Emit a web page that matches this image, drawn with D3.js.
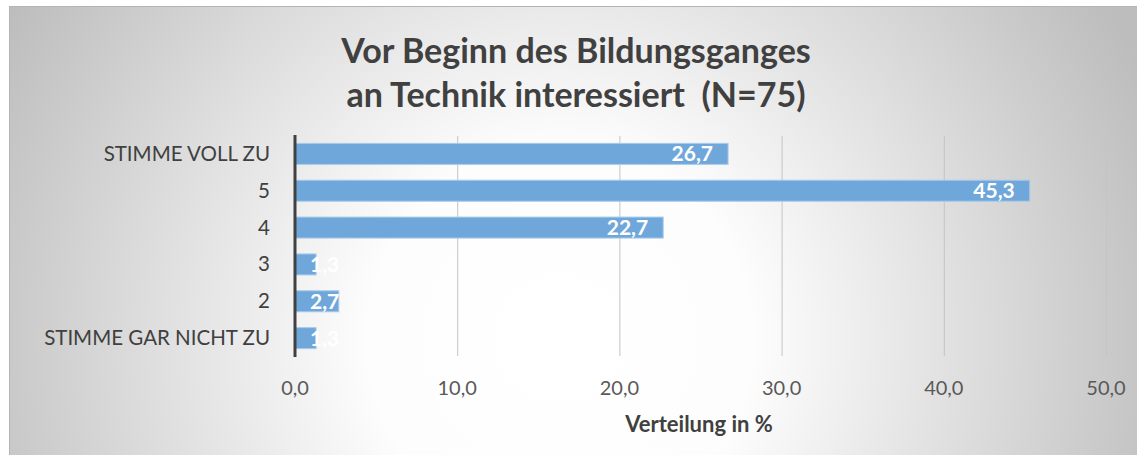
<!DOCTYPE html>
<html>
<head>
<meta charset="utf-8">
<script src="https://cdn.jsdelivr.net/npm/d3@7"></script>
<style>
  body { margin: 0; background: #fff; }
  svg { display: block; font-family: Lato, "Open Sans", sans-serif; }
</style>
</head>
<body>
<svg width="1137" height="455"></svg>
<script>
(() => {

    var width = 1137;
    var height = 455;
    var margin = {top: 136, bottom: 99, left: 295, right: 31};

    // data, top to bottom
    var categories = ["STIMME VOLL ZU", "5", "4", "3", "2", "STIMME GAR NICHT ZU"];
    var values = [26.7, 45.3, 22.7, 1.3, 2.7, 1.3];
    var ticks = [0, 10, 20, 30, 40, 50];
    var titleLines = ["Vor Beginn des Bildungsganges", "an Technik interessiert  (N=75)"];
    var axisTitle = "Verteilung in %";

    var data = categories.map((c, i) => ({cat: c, val: values[i]}));
    var fmt = d => d.toFixed(1).replace(".", ",");

    var svg = d3.select('svg');

    // background
    var defs = svg.append('defs');
    var grad = defs.append('radialGradient')
        .attr('id', 'bg')
        .attr('gradientUnits', 'userSpaceOnUse')
        .attr('cx', 560).attr('cy', 340).attr('r', 640);
    grad.append('stop').attr('offset', '0%').attr('stop-color', '#ffffff');
    grad.append('stop').attr('offset', '30%').attr('stop-color', '#fdfdfd');
    grad.append('stop').attr('offset', '100%').attr('stop-color', '#bdbdbd');

    svg.append('rect')
        .attr('x', 9).attr('y', 6)
        .attr('width', width - 9).attr('height', height - 6)
        .attr('fill', 'url(#bg)');
    svg.append('line')
        .attr('x1', 9).attr('x2', width).attr('y1', 6.5).attr('y2', 6.5)
        .attr('stroke', '#b4b4b4');
    svg.append('line')
        .attr('x1', 9.5).attr('x2', 9.5).attr('y1', 6).attr('y2', height)
        .attr('stroke', '#b4b4b4');

    //scales
    var xScale = d3.scaleLinear()
        .domain([0, 50])
        .range([margin.left, width - margin.right]);
    var yScale = d3.scaleBand()
        .domain(categories)
        .range([margin.top, height - margin.bottom])
        .paddingInner(0.43)
        .paddingOuter(0.2);

    // gridlines
    svg.append('g')
        .selectAll('line')
        .data(ticks.slice(1))
        .enter().append('line')
        .attr('x1', d => xScale(d) + 0.5)
        .attr('x2', d => xScale(d) + 0.5)
        .attr('y1', margin.top)
        .attr('y2', height - margin.bottom)
        .attr('stroke', '#c4c4c4')
        .attr('stroke-width', 1);

    // bars
    svg.selectAll('rect.bar')
        .data(data)
        .enter().append('rect')
        .attr('class', 'bar')
        .attr('x', xScale(0))
        .attr('y', d => yScale(d.cat))
        .attr('width', d => xScale(d.val) - xScale(0))
        .attr('height', yScale.bandwidth())
        .attr('fill', '#70a7da')
        .attr('stroke', '#a9cbea')
        .attr('stroke-width', 1);

    // data labels
    svg.selectAll('text.lbl')
        .data(data)
        .enter().append('text')
        .attr('class', 'lbl')
        .text(d => fmt(d.val))
        .attr('y', d => yScale(d.cat) + yScale.bandwidth() / 2 + 7.5)
        .attr('fill', '#ffffff')
        .attr('font-weight', 'bold')
        .attr('font-size', 21)
        .attr('x', function (d) {
            var w = this.getComputedTextLength();
            return Math.max(xScale(d.val) - 15 - w, xScale(0) + 15);
        });

    // y axis line
    svg.append('line')
        .attr('x1', xScale(0)).attr('x2', xScale(0))
        .attr('y1', margin.top - 1).attr('y2', height - margin.bottom + 1)
        .attr('stroke', '#404040')
        .attr('stroke-width', 3);

    // category labels
    svg.selectAll('text.cat')
        .data(categories)
        .enter().append('text')
        .attr('class', 'cat')
        .text(d => d)
        .attr('x', 270)
        .attr('y', d => yScale(d) + yScale.bandwidth() / 2 + 7)
        .attr('text-anchor', 'end')
        .attr('font-size', 20.5)
        .attr('fill', '#404040');

    // x tick labels
    svg.selectAll('text.tick')
        .data(ticks)
        .enter().append('text')
        .attr('class', 'tick')
        .text(fmt)
        .attr('x', d => xScale(d))
        .attr('y', 395)
        .attr('text-anchor', 'middle')
        .attr('font-size', 20)
        .attr('fill', '#595959');

    // axis title
    svg.append('text')
        .text(axisTitle)
        .attr('x', 699)
        .attr('y', 432)
        .attr('text-anchor', 'middle')
        .attr('font-weight', 'bold')
        .attr('font-size', 22)
        .attr('fill', '#404040');

    // title
    svg.selectAll('text.title')
        .data(titleLines)
        .enter().append('text')
        .attr('class', 'title')
        .text(d => d)
        .attr('x', 576)
        .attr('y', (d, i) => 63 + i * 44)
        .attr('text-anchor', 'middle')
        .attr('font-weight', 'bold')
        .attr('font-size', 34)
        .attr('fill', '#404040')
        .style('white-space', 'pre');

})();
</script>
</body>
</html>
